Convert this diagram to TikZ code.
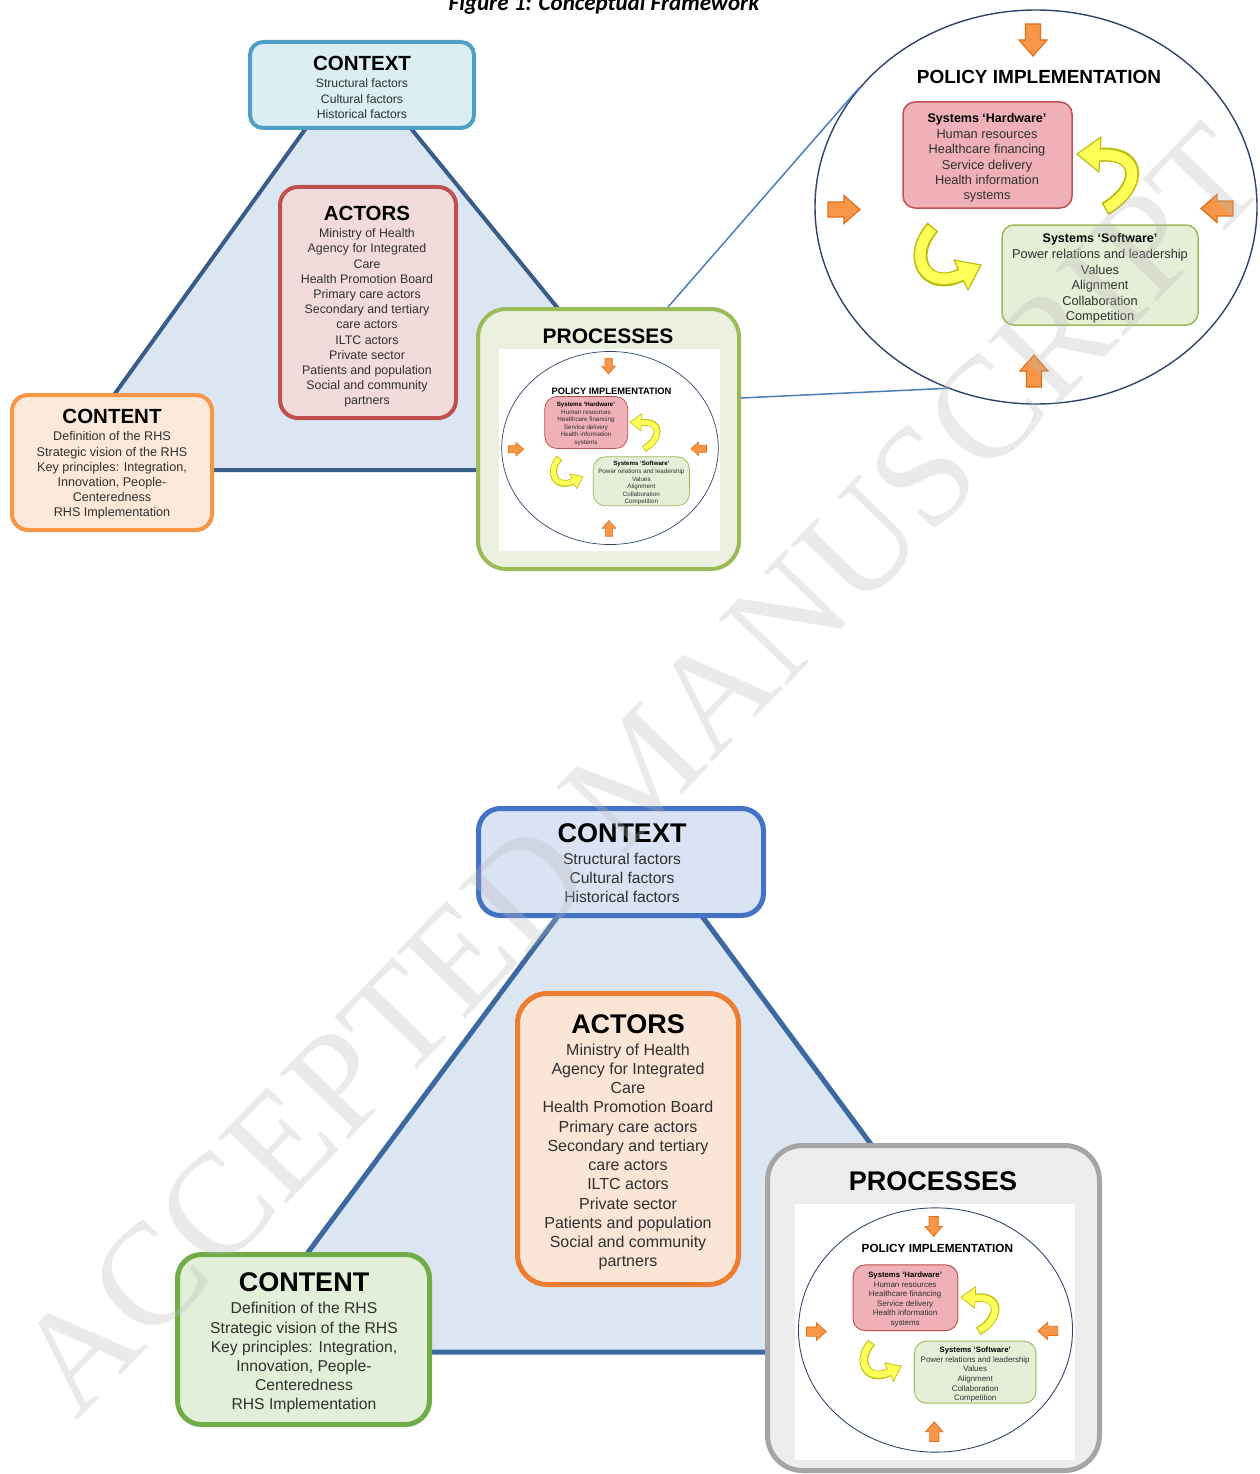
\documentclass[tikz,border=0pt]{standalone}
\usepackage{fontspec}
\setmainfont{Liberation Sans}
\newfontfamily\calib{Carlito}
\newfontfamily\wmfont{Liberation Serif}
\usetikzlibrary{shapes.geometric}

\definecolor{triA}{HTML}{385D8A}
\definecolor{triB}{HTML}{3C69A0}
\definecolor{trifill}{HTML}{DCE6F2}
\definecolor{ctxAfill}{HTML}{DBEEF4}
\definecolor{ctxAline}{HTML}{4FA0C6}
\definecolor{actAfill}{HTML}{F2DCDB}
\definecolor{actAline}{HTML}{C0504D}
\definecolor{conAfill}{HTML}{FDE9D9}
\definecolor{conAline}{HTML}{F79646}
\definecolor{proAfill}{HTML}{EBF1DE}
\definecolor{proAline}{HTML}{9BBB59}
\definecolor{ctxBfill}{HTML}{DAE3F3}
\definecolor{ctxBline}{HTML}{4472C4}
\definecolor{actBfill}{HTML}{FBE5D6}
\definecolor{actBline}{HTML}{ED7D31}
\definecolor{conBfill}{HTML}{E2F0D9}
\definecolor{conBline}{HTML}{70AD47}
\definecolor{proBfill}{HTML}{EDEDED}
\definecolor{proBline}{HTML}{A5A5A5}
\definecolor{hwfill}{HTML}{EFB0B8}
\definecolor{hwline}{HTML}{C0504D}
\definecolor{swfill}{HTML}{E6EED8}
\definecolor{swline}{HTML}{9BBB59}
\definecolor{circline}{HTML}{2E4468}
\definecolor{orfill}{HTML}{F79646}
\definecolor{orline}{HTML}{E0701A}
\definecolor{yfill}{HTML}{FFFF5A}
\definecolor{yline}{HTML}{BDBD10}
\definecolor{zoomline}{HTML}{4A7EBB}
\definecolor{txt}{HTML}{303030}
\definecolor{wmcol}{HTML}{B8B8B8}

\newcommand\fs[2]{\fontsize{#1}{#2}\selectfont}

\newcommand\oarr[4]{\filldraw[fill=orfill, draw=orline, line width=#4 pt, shift={(#1,#2)}, rotate=#3]
  (-16,-7.5) -- (0,-7.5) -- (0,-14) -- (16,0) -- (0,14) -- (0,7.5) -- (-16,7.5) -- cycle;}

% #1 name, #2 cx, #3 cy, #4 scale, #5 title offset, #6 white backdrop
\newcommand\PolImp[6]{%
\pgfmathsetmacro\pwCirc{#4*1.4}%
\pgfmathsetmacro\pwBox{#4*1.5}%
\pgfmathsetmacro\pwBand{#4*14}%
\pgfmathsetmacro\pwBandIn{#4*10.5}%
\pgfmathsetmacro\pwThin{#4*1.2}%
\pgfmathsetmacro\pwShort{#4*1.6}%
\pgfmathsetmacro\pwExt{#4*2.5}%
\begin{scope}[shift={(#2,#3)}, scale=#4, transform shape]
\ifnum#6=1 \fill[white] (-226,-203) rectangle (225,210);\fi
\node[ellipse, draw=circline, line width=\pwCirc pt, minimum width=442pt, minimum height=394pt, inner sep=0pt] (#1-circ) at (0,0) {};
\oarr{-3}{-167}{-90}{\pwThin}
\oarr{-2}{164}{90}{\pwThin}
\oarr{-192}{2.5}{0}{\pwThin}
\oarr{181}{1.5}{180}{\pwThin}
\node[ttl, font=\bfseries\fs{19}{22}] (#1-title) at (3,#5+6.8) {POLICY IMPLEMENTATION};
\node[rbox, fill=hwfill, draw=hwline, line width=\pwBox pt, rounded corners=12pt, minimum width=169pt, minimum height=106pt] (#1-hw) at (-48.5,-52) {};
\node[ttl, font=\bfseries\fs{12.5}{15}] (#1-hwt) at (-49,-84.5) {Systems ‘Hardware’};
\node[body, font=\fs{12.8}{15.3}] (#1-hwb) at (-49,-77.6) {Human resources\\Healthcare financing\\Service delivery\\Health information\\systems};
\node[rbox, fill=swfill, draw=swline, line width=\pwBox pt, rounded corners=12pt, minimum width=196pt, minimum height=100pt] (#1-sw) at (64,68) {};
\node[ttl, font=\bfseries\fs{12.5}{15}] (#1-swt) at (64,35.5) {Systems ‘Software’};
\node[body, font=\fs{12.8}{15.5}] (#1-swb) at (64,42.4) {Power relations and leadership\\Values\\Alignment\\Collaboration\\Competition};
% yellow curved arrows
\draw[draw=yline, line width=\pwBand pt] (69,2) .. controls (104,-18) and (108,-56) .. (64,-52);
\filldraw[fill=yfill, draw=yline, line width=\pwThin pt, line join=round] (65,-70) -- (41,-53) -- (63,-35) -- cycle;
\draw[draw=yfill, line width=\pwBandIn pt, shorten <=\pwShort pt, shorten >=-\pwExt pt] (69,2) .. controls (104,-18) and (108,-56) .. (64,-52);
\draw[draw=yline, line width=\pwBand pt] (-103,20) .. controls (-130,50) and (-110,85) .. (-75,68);
\filldraw[fill=yfill, draw=yline, line width=\pwThin pt, line join=round] (-68,83) -- (-55,58) -- (-82,53) -- cycle;
\draw[draw=yfill, line width=\pwBandIn pt, shorten <=\pwShort pt, shorten >=-\pwExt pt] (-103,20) .. controls (-130,50) and (-110,85) .. (-75,68);
\end{scope}}

\begin{document}
\begin{tikzpicture}[x=1pt, y=-1pt,
  rbox/.style={rectangle, draw, inner sep=0pt, outer sep=0pt},
  ttl/.style={anchor=base, inner sep=0pt, text=black},
  body/.style={anchor=north, align=center, inner sep=0pt, text=txt},
  link/.style={draw=zoomline, line width=1.5pt}]
\useasboundingbox (0,0) rectangle (1259,1474);
\clip (0,0) rectangle (1259,1474);

% figure title (cut at top)
\node[anchor=base, inner sep=0pt, font=\calib\bfseries\itshape\fs{23}{26}] (fig) at (604,11) {Figure 1: Conceptual Framework};

% ---------------- top framework ----------------
\filldraw[fill=trifill, draw=triA, line width=4pt, line join=round] (355,60) -- (60,470) -- (690,470) -- cycle;

\node[rbox, fill=ctxAfill, draw=ctxAline, line width=4pt, rounded corners=13pt, minimum width=224pt, minimum height=86pt] (ctxA) at (362,85) {};
\node[ttl, font=\bfseries\fs{20.5}{24}] (ctxAt) at (362,70.4) {CONTEXT};
\node[body, font=\fs{12.2}{15.5}] (ctxAb) at (362,78.6) {Structural factors\\Cultural factors\\Historical factors};

\node[rbox, fill=actAfill, draw=actAline, line width=4pt, rounded corners=18pt, minimum width=176pt, minimum height=231pt] (actA) at (368,302.5) {};
\node[ttl, font=\bfseries\fs{20.5}{24}] (actAt) at (367,220.4) {ACTORS};
\node[body, font=\fs{12.4}{15.2}] (actAb) at (367,228.6) {Ministry of Health\\Agency for Integrated\\Care\\Health Promotion Board\\Primary care actors\\Secondary and tertiary\\care actors\\ILTC actors\\Private sector\\Patients and population\\Social and community\\partners};

\node[rbox, fill=conAfill, draw=conAline, line width=4pt, rounded corners=16pt, minimum width=200pt, minimum height=135pt] (conA) at (112,462.5) {};
\node[ttl, font=\bfseries\fs{20.5}{24}] (conAt) at (112,423.3) {CONTENT};
\node[body, font=\fs{12.6}{15.2}] (conAb) at (112,431.5) {Definition of the RHS\\Strategic vision of the RHS\\Key principles: Integration,\\Innovation, People-\\Centeredness\\RHS Implementation};

\coordinate (pz1) at (668,307);
\coordinate (pz2) at (741,398);

\node[rbox, fill=proAfill, draw=proAline, line width=4pt, rounded corners=28pt, minimum width=261pt, minimum height=260pt] (proA) at (608.5,439) {};
\node[ttl, font=\bfseries\fs{21}{25}] (proAt) at (608,343.6) {PROCESSES};
\PolImp{miniA}{610}{448}{0.49}{-116}{1}

% enlarged policy implementation
\PolImp{big}{1036}{207}{1}{-130}{0}
\draw[link] (pz1) -- (big-circ.146);
\draw[link] (pz2) -- (big-circ.244);

% ---------------- bottom framework ----------------
\filldraw[fill=trifill, draw=triB, line width=5pt, line join=round] (630,819) -- (234,1352) -- (1025,1352) -- cycle;

\node[rbox, fill=ctxBfill, draw=ctxBline, line width=5pt, rounded corners=22pt, minimum width=285pt, minimum height=107pt] (ctxB) at (621,862) {};
\node[ttl, font=\bfseries\fs{27}{31}] (ctxBt) at (622,842.7) {CONTEXT};
\node[body, font=\fs{15.6}{19}] (ctxBb) at (622,853.4) {Structural factors\\Cultural factors\\Historical factors};

\node[rbox, fill=actBfill, draw=actBline, line width=5pt, rounded corners=30pt, minimum width=221pt, minimum height=291pt] (actB) at (628,1139) {};
\node[ttl, font=\bfseries\fs{27}{31}] (actBt) at (628,1033.7) {ACTORS};
\node[body, font=\fs{16}{19.27}] (actBb) at (628,1043.2) {Ministry of Health\\Agency for Integrated\\Care\\Health Promotion Board\\Primary care actors\\Secondary and tertiary\\care actors\\ILTC actors\\Private sector\\Patients and population\\Social and community\\partners};

\node[rbox, fill=conBfill, draw=conBline, line width=5pt, rounded corners=24pt, minimum width=252pt, minimum height=170pt] (conB) at (303.5,1339.5) {};
\node[ttl, font=\bfseries\fs{27}{31}] (conBt) at (304,1291.7) {CONTENT};
\node[body, font=\fs{15.7}{19.2}] (conBb) at (304,1302.3) {Definition of the RHS\\Strategic vision of the RHS\\Key principles: Integration,\\Innovation,  People-\\Centeredness\\RHS Implementation};

\node[rbox, fill=proBfill, draw=proBline, line width=5pt, rounded corners=35pt, minimum width=332pt, minimum height=325pt] (proB) at (933.5,1308) {};
\node[ttl, font=\bfseries\fs{27}{31}] (proBt) at (933,1190.7) {PROCESSES};
\PolImp{miniB}{935.5}{1330}{0.62}{-132}{1}

% watermark
\node[inner sep=0pt, rotate=46, text=wmcol, text opacity=0.3, font=\wmfont\fs{145}{150}] (wm) at (640,770) {ACCEPTED MANUSCRIPT};
\end{tikzpicture}
\end{document}
